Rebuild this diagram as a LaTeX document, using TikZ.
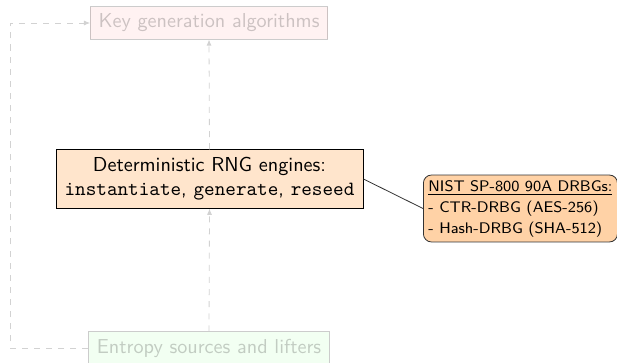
\documentclass[tikz,border=0pt]{standalone}
\usetikzlibrary{arrows.meta}
\begin{document}
\begin{tikzpicture}[x=0.495pt,y=-0.495pt,font=\sffamily,
  faded/.style={draw=black,text=black,opacity=0.2,minimum height=16pt,inner xsep=4pt},
  mainbox/.style={draw=black,fill=orange!20,align=center,minimum width=152pt,minimum height=29pt,inner sep=3pt},
  notebox/.style={draw=black!80,fill=orange!35,rounded corners=4pt,align=left,font=\sffamily\fontsize{7.6}{10.4}\selectfont,inner sep=2.5pt,minimum height=33pt,minimum width=96pt},
  fadeline/.style={draw=gray!35,dashed,-{Latex[length=3pt,width=2.5pt]}},
  link/.style={draw=black!80}]
\useasboundingbox (0,0) rectangle (617,363);
\node[faded,fill=red!25] (key) at (209,23) {Key generation algorithms};
\node[faded,fill=green!25] (ent) at (209,348) {Entropy sources and lifters};
\node[mainbox] (main) at (209.5,179) {Deterministic RNG engines:\\\texttt{instantiate}, \texttt{generate}, \texttt{reseed}};
\node[notebox,anchor=west] (note) at (423,208.5) {\underline{NIST SP-800 90A DRBGs:}\\- CTR-DRBG (AES-256)\\- Hash-DRBG (SHA-512)};
\coordinate (lb) at (10,348);
\coordinate (lt) at (10,23);
\draw[fadeline] (main.north) -- (key.south);
\draw[fadeline] (ent.north) -- (main.south);
\draw[fadeline] (ent.west) -- (lb) -- (lt) -- (key.west);
\draw[link] (main.east) -- (note.west);
\end{tikzpicture}
\end{document}
